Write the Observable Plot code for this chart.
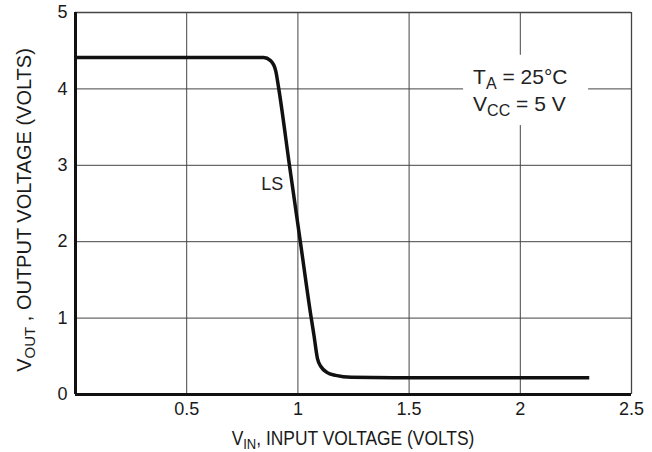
<!DOCTYPE html>
<html>
<head>
<meta charset="utf-8">
<script src="https://cdn.jsdelivr.net/npm/d3@7"></script>
<script src="https://cdn.jsdelivr.net/npm/@observablehq/plot@0.6"></script>
<style>
  html, body { margin: 0; padding: 0; background: #fff; }
  #chart { width: 652px; height: 452px; }
</style>
</head>
<body>
<div id="chart"></div>
<script>
// Transfer characteristic (LS)
const vin  = [0, 0.5, 0.846, 0.877, 0.900, 0.913, 0.962, 1.011, 1.060, 1.072, 1.088, 1.105, 1.13, 1.17, 1.24, 1.5, 2.0, 2.31];
const vout = [4.41, 4.41, 4.41, 4.37, 4.24, 4.02, 3.0, 2.0, 1.0, 0.78, 0.47, 0.36, 0.29, 0.25, 0.225, 0.22, 0.22, 0.22];
const xTicks = [0.5, 1, 1.5, 2, 2.5];
const yTicks = [0, 1, 2, 3, 4, 5];
const xGrid = [0.5, 1, 1.5, 2];
const yGrid = [1, 2, 3, 4];
const seriesLabel = ["LS"];
const seriesLabelAt = [{x: 0.885, y: 2.75}];
const noteBox = [{x1: 1.745, x2: 2.307, y1: 3.52, y2: 4.44}];
const noteLines = [
  [{t: "T"}, {t: "A", sub: true}, {t: " = 25°C"}],
  [{t: "V"}, {t: "CC", sub: true}, {t: " = 5 V"}]
];
const noteAnchor = {x: 1.79, y: [4.06, 3.70]};
const xTitleParts = [{t: "V"}, {t: "IN", sub: true}, {t: ", INPUT VOLTAGE (VOLTS)"}];
const yTitleParts = [{t: "V"}, {t: "OUT", sub: true}, {t: " , OUTPUT VOLTAGE (VOLTS)"}];

const data = vin.map((v, i) => ({vin: v, vout: vout[i]}));
const FONT = "'Liberation Sans', Arial, Helvetica, sans-serif";

const chart = Plot.plot({
  width: 652,
  height: 452,
  marginLeft: 75,
  marginRight: 21,
  marginTop: 12,
  marginBottom: 58,
  style: {fontFamily: FONT, fontSize: "18px", color: "#1a1a1a", background: "#fff"},
  x: {domain: [0, 2.5], ticks: xTicks, tickSize: 0, tickPadding: 8, label: null, tickFormat: d => String(d)},
  y: {domain: [0, 5], ticks: yTicks, tickSize: 0, tickPadding: 8, label: null, tickFormat: d => String(d)},
  marks: [
    Plot.ruleX(xGrid, {stroke: "#444", strokeWidth: 1}),
    Plot.ruleY(yGrid, {stroke: "#444", strokeWidth: 1}),
    Plot.ruleX([2.5], {stroke: "#444", strokeWidth: 1.3}),
    Plot.ruleY([5], {stroke: "#444", strokeWidth: 1.3}),
    Plot.rect(noteBox, {x1: "x1", x2: "x2", y1: "y1", y2: "y2", fill: "#fff"}),
    Plot.line(data, {x: "vin", y: "vout", curve: "monotone-x", stroke: "#111", strokeWidth: 3.5, strokeLinejoin: "round", strokeLinecap: "butt"}),
    Plot.text(seriesLabelAt, {x: "x", y: "y", text: (d, i) => seriesLabel[i], fontFamily: FONT, fontSize: 18, fill: "#222", textAnchor: "middle"}),
    Plot.ruleX([0], {stroke: "#111", strokeWidth: 3}),
    Plot.ruleY([0], {stroke: "#111", strokeWidth: 3})
  ]
});
document.getElementById("chart").appendChild(chart);

const sx = chart.scale("x"), sy = chart.scale("y");
const svg = d3.select(chart);

function addParts(sel, parts, size, shiftAmt) {
  let shift = 0;
  parts.forEach(p => {
    const target = p.sub ? shiftAmt : 0;
    sel.append("tspan")
      .attr("dy", target - shift)
      .attr("font-size", p.sub ? Math.round(size * 0.75) : size)
      .text(p.t);
    shift = target;
  });
}

// annotation with subscripts
noteLines.forEach((parts, li) => {
  const t = svg.append("text")
    .attr("x", sx.apply(noteAnchor.x))
    .attr("y", sy.apply(noteAnchor.y[li]))
    .attr("text-anchor", "start")
    .attr("font-family", FONT)
    .attr("font-size", 21)
    .attr("fill", "#222");
  addParts(t, parts, 21, 5);
});

// axis titles
const xMid = (sx.range[0] + sx.range[1]) / 2;
const xTitle = svg.append("text")
  .attr("transform", `translate(${xMid},445) scale(0.87,1)`)
  .attr("text-anchor", "middle")
  .attr("font-family", FONT)
  .attr("font-size", 20)
  .attr("fill", "#1a1a1a");
addParts(xTitle, xTitleParts, 20, 4);

const yMid = 210;
const yTitle = svg.append("text")
  .attr("transform", `translate(31,${yMid}) rotate(-90) scale(1.0,1)`)
  .attr("text-anchor", "middle")
  .attr("font-family", FONT)
  .attr("font-size", 20)
  .attr("fill", "#1a1a1a");
addParts(yTitle, yTitleParts, 20, 4);
</script>
</body>
</html>
